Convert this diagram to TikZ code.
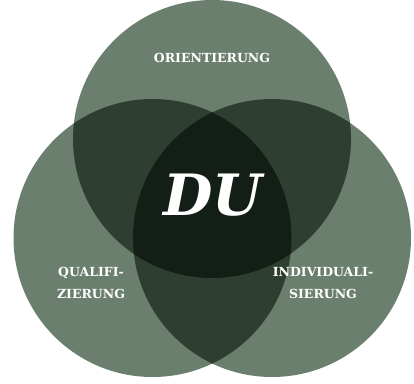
\documentclass[tikz,border=0pt]{standalone}
\usepackage{fontspec}
\setmainfont{DejaVu Serif}
\definecolor{single}{HTML}{6B7F6E}
\definecolor{dbl}{HTML}{2E3F31}
\definecolor{trpl}{HTML}{131F16}
\tikzset{
  lbl/.style={text=white, font=\bfseries\fontsize{12.5}{22}\selectfont, align=center, inner sep=0pt},
  big/.style={text=white, font=\bfseries\itshape\fontsize{57}{57}\selectfont, inner sep=0pt}
}
\begin{document}
\begin{tikzpicture}[x=1pt,y=-1pt]
\useasboundingbox (0,0) rectangle (414,383);
\fill[white] (0,0) rectangle (414,383);
\coordinate (ct) at (212,139);
\coordinate (cl) at (152.5,238);
\coordinate (cr) at (272,238);
\def\R{139pt}
% single
\fill[single] (ct) circle[radius=\R];
\fill[single] (cl) circle[radius=\R];
\fill[single] (cr) circle[radius=\R];
% doubles
\begin{scope}\clip (ct) circle[radius=\R]; \fill[dbl] (cl) circle[radius=\R]; \fill[dbl] (cr) circle[radius=\R];\end{scope}
\begin{scope}\clip (cl) circle[radius=\R]; \fill[dbl] (cr) circle[radius=\R];\end{scope}
% triple
\begin{scope}\clip (ct) circle[radius=\R]; \clip (cl) circle[radius=\R]; \fill[trpl] (cr) circle[radius=\R];\end{scope}
\node[lbl] (ori) at (212,58) {ORIENTIERUNG};
\node[lbl] (qua) at (91,283) {QUALIFI-\\ZIERUNG};
\node[lbl] (ind) at (323,283) {INDIVIDUALI-\\SIERUNG};
\node[big] (du) at (213,195) {DU};
\end{tikzpicture}
\end{document}
